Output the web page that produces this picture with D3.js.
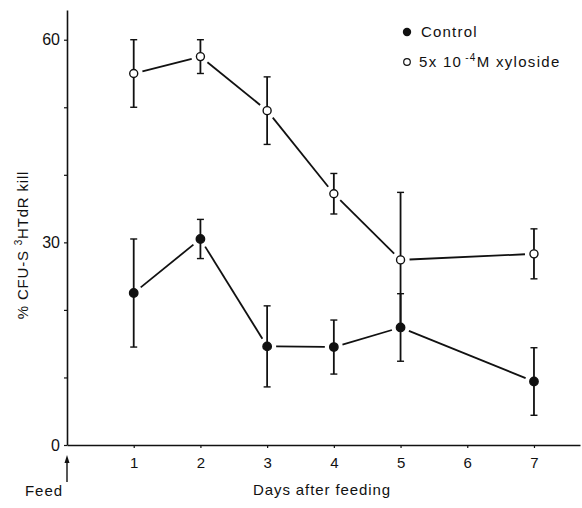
<!DOCTYPE html>
<html>
<head>
<meta charset="utf-8">
<script src="https://cdn.jsdelivr.net/npm/d3@7"></script>
<style>
  body { margin: 0; background: #fff; }
  text { font-family: "Liberation Sans", Arial, sans-serif; fill: #111; }
</style>
</head>
<body>
<script>
    // Data
    const days = [1, 2, 3, 4, 5, 7];
    const controlMean = [22.5, 30.5, 14.6, 14.5, 17.4, 9.4];
    const controlErr = [8, 2.9, 6, 4, 5, 5];
    const xylMean = [55, 57.5, 49.5, 37.2, 27.4, 28.3];
    const xylErr = [5, 2.5, 5, 3, 10, 3.7];
    const xTicks = [1, 2, 3, 4, 5, 6, 7];
    const yTicks = [0, 10, 20, 30, 40, 50, 60];
    const yLabelled = [0, 30, 60];

    const width = 582;
    const height = 508;

    const svg = d3.select("body")
      .append("svg")
      .attr("width", width)
      .attr("height", height);

    // Scales
    const x = d3.scaleLinear().domain([0, 7.69]).range([67, 580]);
    const y = d3.scaleLinear().domain([0, 64.4]).range([445, 10]);

    // Axes
    const xAxis = svg.append("g")
      .attr("transform", `translate(0,${y(0)})`)
      .call(d3.axisBottom(x).tickValues(xTicks).tickSize(3).tickSizeOuter(0).tickPadding(9));
    xAxis.select(".domain").attr("stroke", "#111").attr("stroke-width", 1.6);
    xAxis.selectAll(".tick line").attr("stroke", "#111").attr("stroke-width", 1.2);
    xAxis.selectAll(".tick text").attr("font-size", 15).style("font-family", "Liberation Sans, Arial, sans-serif");

    const yAxis = svg.append("g")
      .attr("transform", `translate(${x(0)},0)`)
      .call(d3.axisLeft(y).tickValues(yTicks).tickSize(3).tickSizeOuter(0).tickPadding(4)
        .tickFormat(d => yLabelled.includes(d) ? d : ""));
    yAxis.select(".domain").attr("stroke", "#111").attr("stroke-width", 1.6);
    yAxis.selectAll(".tick line").attr("stroke", "#111").attr("stroke-width", 1.2);
    yAxis.selectAll(".tick text").attr("font-size", 16).style("font-family", "Liberation Sans, Arial, sans-serif");

    // Axis titles
    svg.append("text")
      .attr("x", 322).attr("y", 495)
      .attr("text-anchor", "middle")
      .attr("font-size", 15)
      .attr("letter-spacing", 0.9)
      .text("Days after feeding");

    const yTitle = svg.append("text")
      .attr("transform", "translate(28,245) rotate(-90)")
      .attr("text-anchor", "middle")
      .attr("font-size", 15)
      .attr("letter-spacing", 0.8);
    yTitle.append("tspan").text("% CFU-S ");
    yTitle.append("tspan").attr("font-size", 10).attr("dy", -6).text("3");
    yTitle.append("tspan").attr("dy", 6).text("HTdR kill");

    // Feed arrow
    svg.append("line")
      .attr("x1", x(0)).attr("x2", x(0))
      .attr("y1", 482).attr("y2", 460)
      .attr("stroke", "#111").attr("stroke-width", 1.4);
    svg.append("path")
      .attr("d", `M${x(0) - 2.5},${463} L${x(0)},${455} L${x(0) + 2.5},${463} Z`)
      .attr("fill", "#111");
    svg.append("text")
      .attr("x", 44).attr("y", 496)
      .attr("text-anchor", "middle")
      .attr("font-size", 15)
      .attr("letter-spacing", 1)
      .text("Feed");

    // Draw one series: error bars, gapped connecting lines, markers
    function drawSeries(means, errs, filled) {
      const pts = days.map((d, i) => ({ px: x(d), py: y(means[i]), lo: y(means[i] - errs[i]), hi: y(means[i] + errs[i]) }));
      const g = svg.append("g");

      // connecting segments with a gap at each marker
      const gap = 9;
      for (let i = 0; i < pts.length - 1; i++) {
        const a = pts[i], b = pts[i + 1];
        const dx = b.px - a.px, dy = b.py - a.py;
        const len = Math.sqrt(dx * dx + dy * dy);
        const ux = dx / len, uy = dy / len;
        g.append("line")
          .attr("x1", a.px + ux * gap).attr("y1", a.py + uy * gap)
          .attr("x2", b.px - ux * gap).attr("y2", b.py - uy * gap)
          .attr("stroke", "#111").attr("stroke-width", 1.8);
      }

      // error bars
      const eb = g.selectAll(".eb").data(pts).enter().append("g");
      eb.append("line")
        .attr("x1", d => d.px).attr("x2", d => d.px)
        .attr("y1", d => d.lo).attr("y2", d => d.hi)
        .attr("stroke", "#111").attr("stroke-width", 1.8);
      eb.append("line")
        .attr("x1", d => d.px - 3.5).attr("x2", d => d.px + 3.5)
        .attr("y1", d => d.lo).attr("y2", d => d.lo)
        .attr("stroke", "#111").attr("stroke-width", 1.4);
      eb.append("line")
        .attr("x1", d => d.px - 3.5).attr("x2", d => d.px + 3.5)
        .attr("y1", d => d.hi).attr("y2", d => d.hi)
        .attr("stroke", "#111").attr("stroke-width", 1.4);

      // markers
      g.selectAll("circle").data(pts).enter().append("circle")
        .attr("cx", d => d.px).attr("cy", d => d.py)
        .attr("r", filled ? 4.2 : 4)
        .attr("fill", filled ? "#111" : "#fff")
        .attr("stroke", "#111").attr("stroke-width", 1.4);
    }

    drawSeries(xylMean, xylErr, false);
    drawSeries(controlMean, controlErr, true);

    // Legend
    const legend = svg.append("g");
    legend.append("circle").attr("cx", 407).attr("cy", 32).attr("r", 4.2).attr("fill", "#111");
    legend.append("text").attr("x", 421).attr("y", 37).attr("font-size", 15).attr("letter-spacing", 1.2).text("Control");
    legend.append("circle").attr("cx", 407).attr("cy", 62).attr("r", 3.3).attr("fill", "#fff").attr("stroke", "#111").attr("stroke-width", 1.2);
    const lt = legend.append("text").attr("x", 419).attr("y", 67).attr("font-size", 15).attr("letter-spacing", 1.3);
    lt.append("tspan").text("5x 10");
    lt.append("tspan").attr("font-size", 10).attr("dx", 3).attr("dy", -6).text("-4");
    lt.append("tspan").attr("dy", 6).text("M xyloside");
</script>
</body>
</html>
